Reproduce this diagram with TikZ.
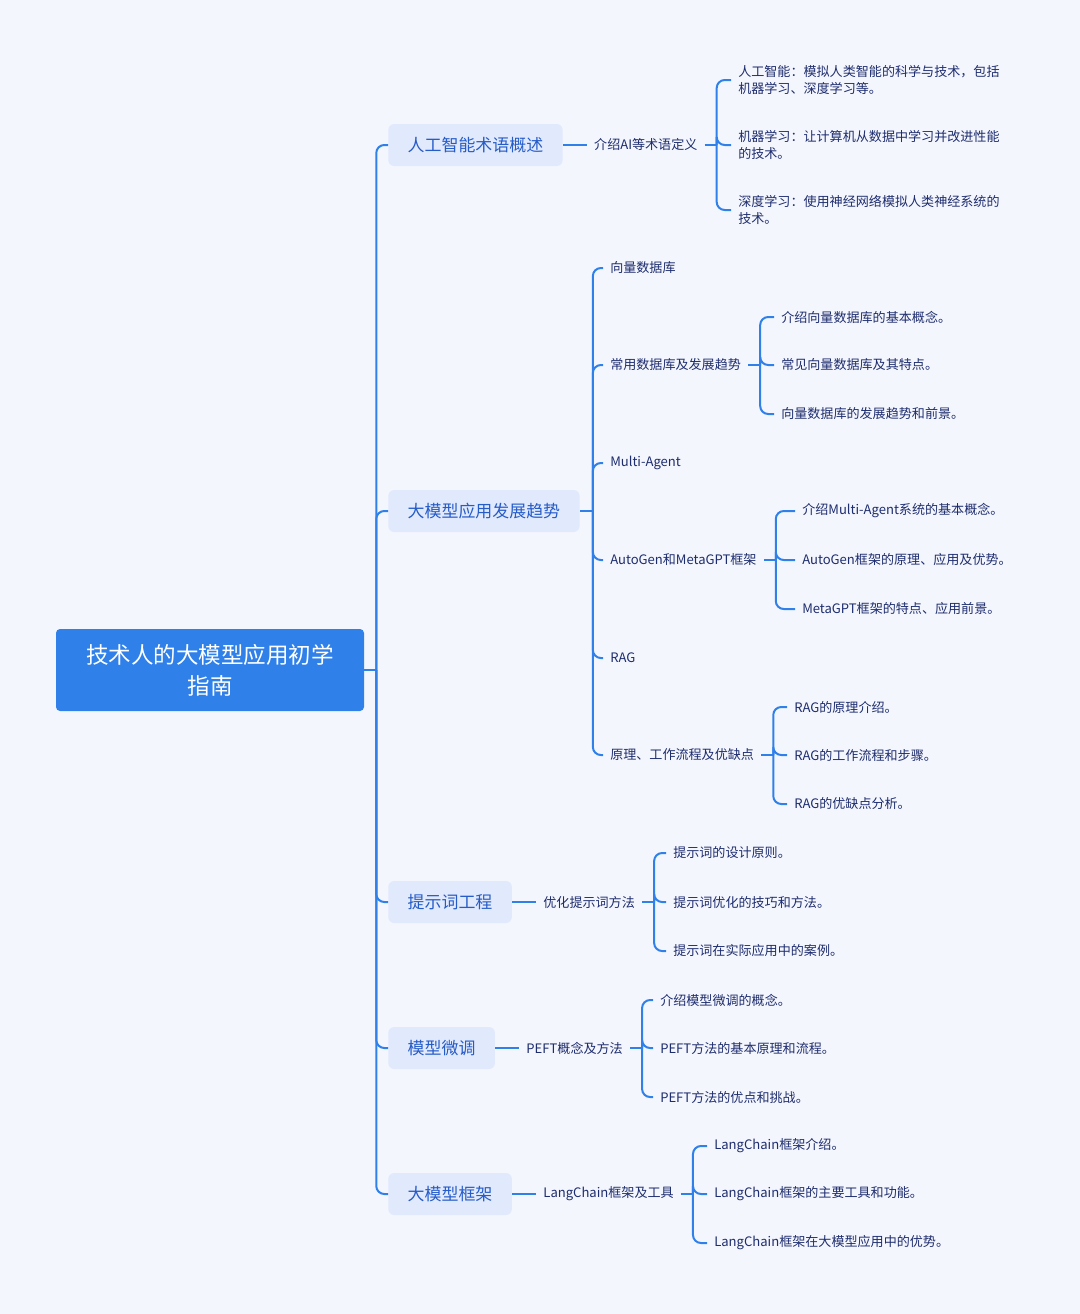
\documentclass[tikz,border=0pt]{standalone}
\usepackage{fontspec}
\setmainfont{Noto Sans CJK SC}
\usetikzlibrary{positioning}
\definecolor{bg}{RGB}{244,246,253}
\definecolor{mainblue}{RGB}{47,128,233}
\definecolor{boxblue}{RGB}{225,233,252}
\definecolor{topictext}{RGB}{38,92,200}
\definecolor{leaftext}{RGB}{30,45,110}

\begin{document}
\begin{tikzpicture}[x=0.75pt,y=-0.75pt,
  rootbox/.style={fill=mainblue,rounded corners=3pt,text=white,align=center,
    minimum width=231pt,minimum height=61.5pt,font=\fontsize{16.9pt}{23.25pt}\selectfont},
  topic/.style={fill=boxblue,rounded corners=4.5pt,text=topictext,minimum height=31.5pt,
    inner xsep=14.6pt,font=\fontsize{12.7pt}{15pt}\selectfont},
  item/.style={text=leaftext,inner xsep=5.25pt,inner ysep=2pt,align=left,
    font=\fontsize{9.8pt}{12.75pt}\selectfont},
  link/.style={draw=mainblue,line width=1.5pt,rounded corners=6pt}
]
\path[use as bounding box,fill=bg] (0,0) rectangle (1080,1314);

% root and first level
\node[rootbox] (root) at (210,670) {技术人的大模型应用初学\\指南};
\node[topic,anchor=west] (ai) at (388,145) {人工智能术语概述};
\node[topic,anchor=west] (trend) at (388,511) {大模型应用发展趋势};
\node[topic,anchor=west] (prompt) at (388,902) {提示词工程};
\node[topic,anchor=west] (tune) at (388,1048) {模型微调};
\node[topic,anchor=west] (frame) at (388,1194) {大模型框架};

% AI terms
\node[item,right=18pt of ai] (aidef) {介绍AI等术语定义};
\node[item,anchor=west] (ai1) at (731,80) {人工智能：模拟人类智能的科学与技术，包括\\机器学习、深度学习等。};
\node[item,anchor=west] (ai2) at (731,145) {机器学习：让计算机从数据中学习并改进性能\\的技术。};
\node[item,anchor=west] (ai3) at (731,210) {深度学习：使用神经网络模拟人类神经系统的\\技术。};

% trends
\node[item,anchor=west] (t1) at (603,268) {向量数据库};
\node[item,anchor=west] (t2) at (603,365) {常用数据库及发展趋势};
\node[item,anchor=west] (t3) at (603,463) {Multi-Agent};
\node[item,anchor=west] (t4) at (603,560) {AutoGen和MetaGPT框架};
\node[item,anchor=west] (t5) at (603,658) {RAG};
\node[item,anchor=west] (t6) at (603,755) {原理、工作流程及优缺点};
\node[item,anchor=west] (db1) at (774,317) {介绍向量数据库的基本概念。};
\node[item,anchor=west] (db2) at (774,365) {常见向量数据库及其特点。};
\node[item,anchor=west] (db3) at (774,414) {向量数据库的发展趋势和前景。};
\node[item,anchor=west] (ag1) at (795,511) {介绍Multi-Agent系统的基本概念。};
\node[item,anchor=west] (ag2) at (795,560) {AutoGen框架的原理、应用及优势。};
\node[item,anchor=west] (ag3) at (795,609) {MetaGPT框架的特点、应用前景。};
\node[item,anchor=west] (rag1) at (787,707) {RAG的原理介绍。};
\node[item,anchor=west] (rag2) at (787,755) {RAG的工作流程和步骤。};
\node[item,anchor=west] (rag3) at (787,804) {RAG的优缺点分析。};

% prompt
\node[item,right=18pt of prompt] (pdef) {优化提示词方法};
\node[item,anchor=west] (p1) at (666,853) {提示词的设计原则。};
\node[item,anchor=west] (p2) at (666,902) {提示词优化的技巧和方法。};
\node[item,anchor=west] (p3) at (666,951) {提示词在实际应用中的案例。};

% fine tuning
\node[item,right=18pt of tune] (tdef) {PEFT概念及方法};
\node[item,anchor=west] (f1) at (653,1000) {介绍模型微调的概念。};
\node[item,anchor=west] (f2) at (653,1048) {PEFT方法的基本原理和流程。};
\node[item,anchor=west] (f3) at (653,1097) {PEFT方法的优点和挑战。};

% frameworks
\node[item,right=18pt of frame] (fdef) {LangChain框架及工具};
\node[item,anchor=west] (l1) at (707,1146) {LangChain框架介绍。};
\node[item,anchor=west] (l2) at (707,1194) {LangChain框架的主要工具和功能。};
\node[item,anchor=west] (l3) at (707,1243) {LangChain框架在大模型应用中的优势。};

% connectors: a straight stub to the bracket, then one rounded hook per child
\draw[link] (root.east) -- ++(12,0) coordinate (rootb);
\foreach \t in {ai,trend,prompt,tune,frame}
  \draw[link] (rootb) |- (\t.west);
\draw[link] (ai.east) -- (aidef.west);
\draw[link] (prompt.east) -- (pdef.west);
\draw[link] (tune.east) -- (tdef.west);
\draw[link] (frame.east) -- (fdef.west);
\draw[link] (aidef.east) -- ++(12,0) coordinate (aib);
\foreach \l in {ai1,ai2,ai3}
  \draw[link] (aib) |- (\l.west);
\draw[link] (trend.east) -- ++(13,0) coordinate (trendb);
\foreach \l in {t1,t2,t3,t4,t5,t6}
  \draw[link] (trendb) |- (\l.west);
\draw[link] (t2.east) -- ++(12,0) coordinate (dbb);
\foreach \l in {db1,db2,db3}
  \draw[link] (dbb) |- (\l.west);
\draw[link] (t4.east) -- ++(12,0) coordinate (agb);
\foreach \l in {ag1,ag2,ag3}
  \draw[link] (agb) |- (\l.west);
\draw[link] (t6.east) -- ++(12,0) coordinate (ragb);
\foreach \l in {rag1,rag2,rag3}
  \draw[link] (ragb) |- (\l.west);
\draw[link] (pdef.east) -- ++(12,0) coordinate (pb);
\foreach \l in {p1,p2,p3}
  \draw[link] (pb) |- (\l.west);
\draw[link] (tdef.east) -- ++(12,0) coordinate (tb);
\foreach \l in {f1,f2,f3}
  \draw[link] (tb) |- (\l.west);
\draw[link] (fdef.east) -- ++(12,0) coordinate (fb);
\foreach \l in {l1,l2,l3}
  \draw[link] (fb) |- (\l.west);
\end{tikzpicture}
\end{document}
